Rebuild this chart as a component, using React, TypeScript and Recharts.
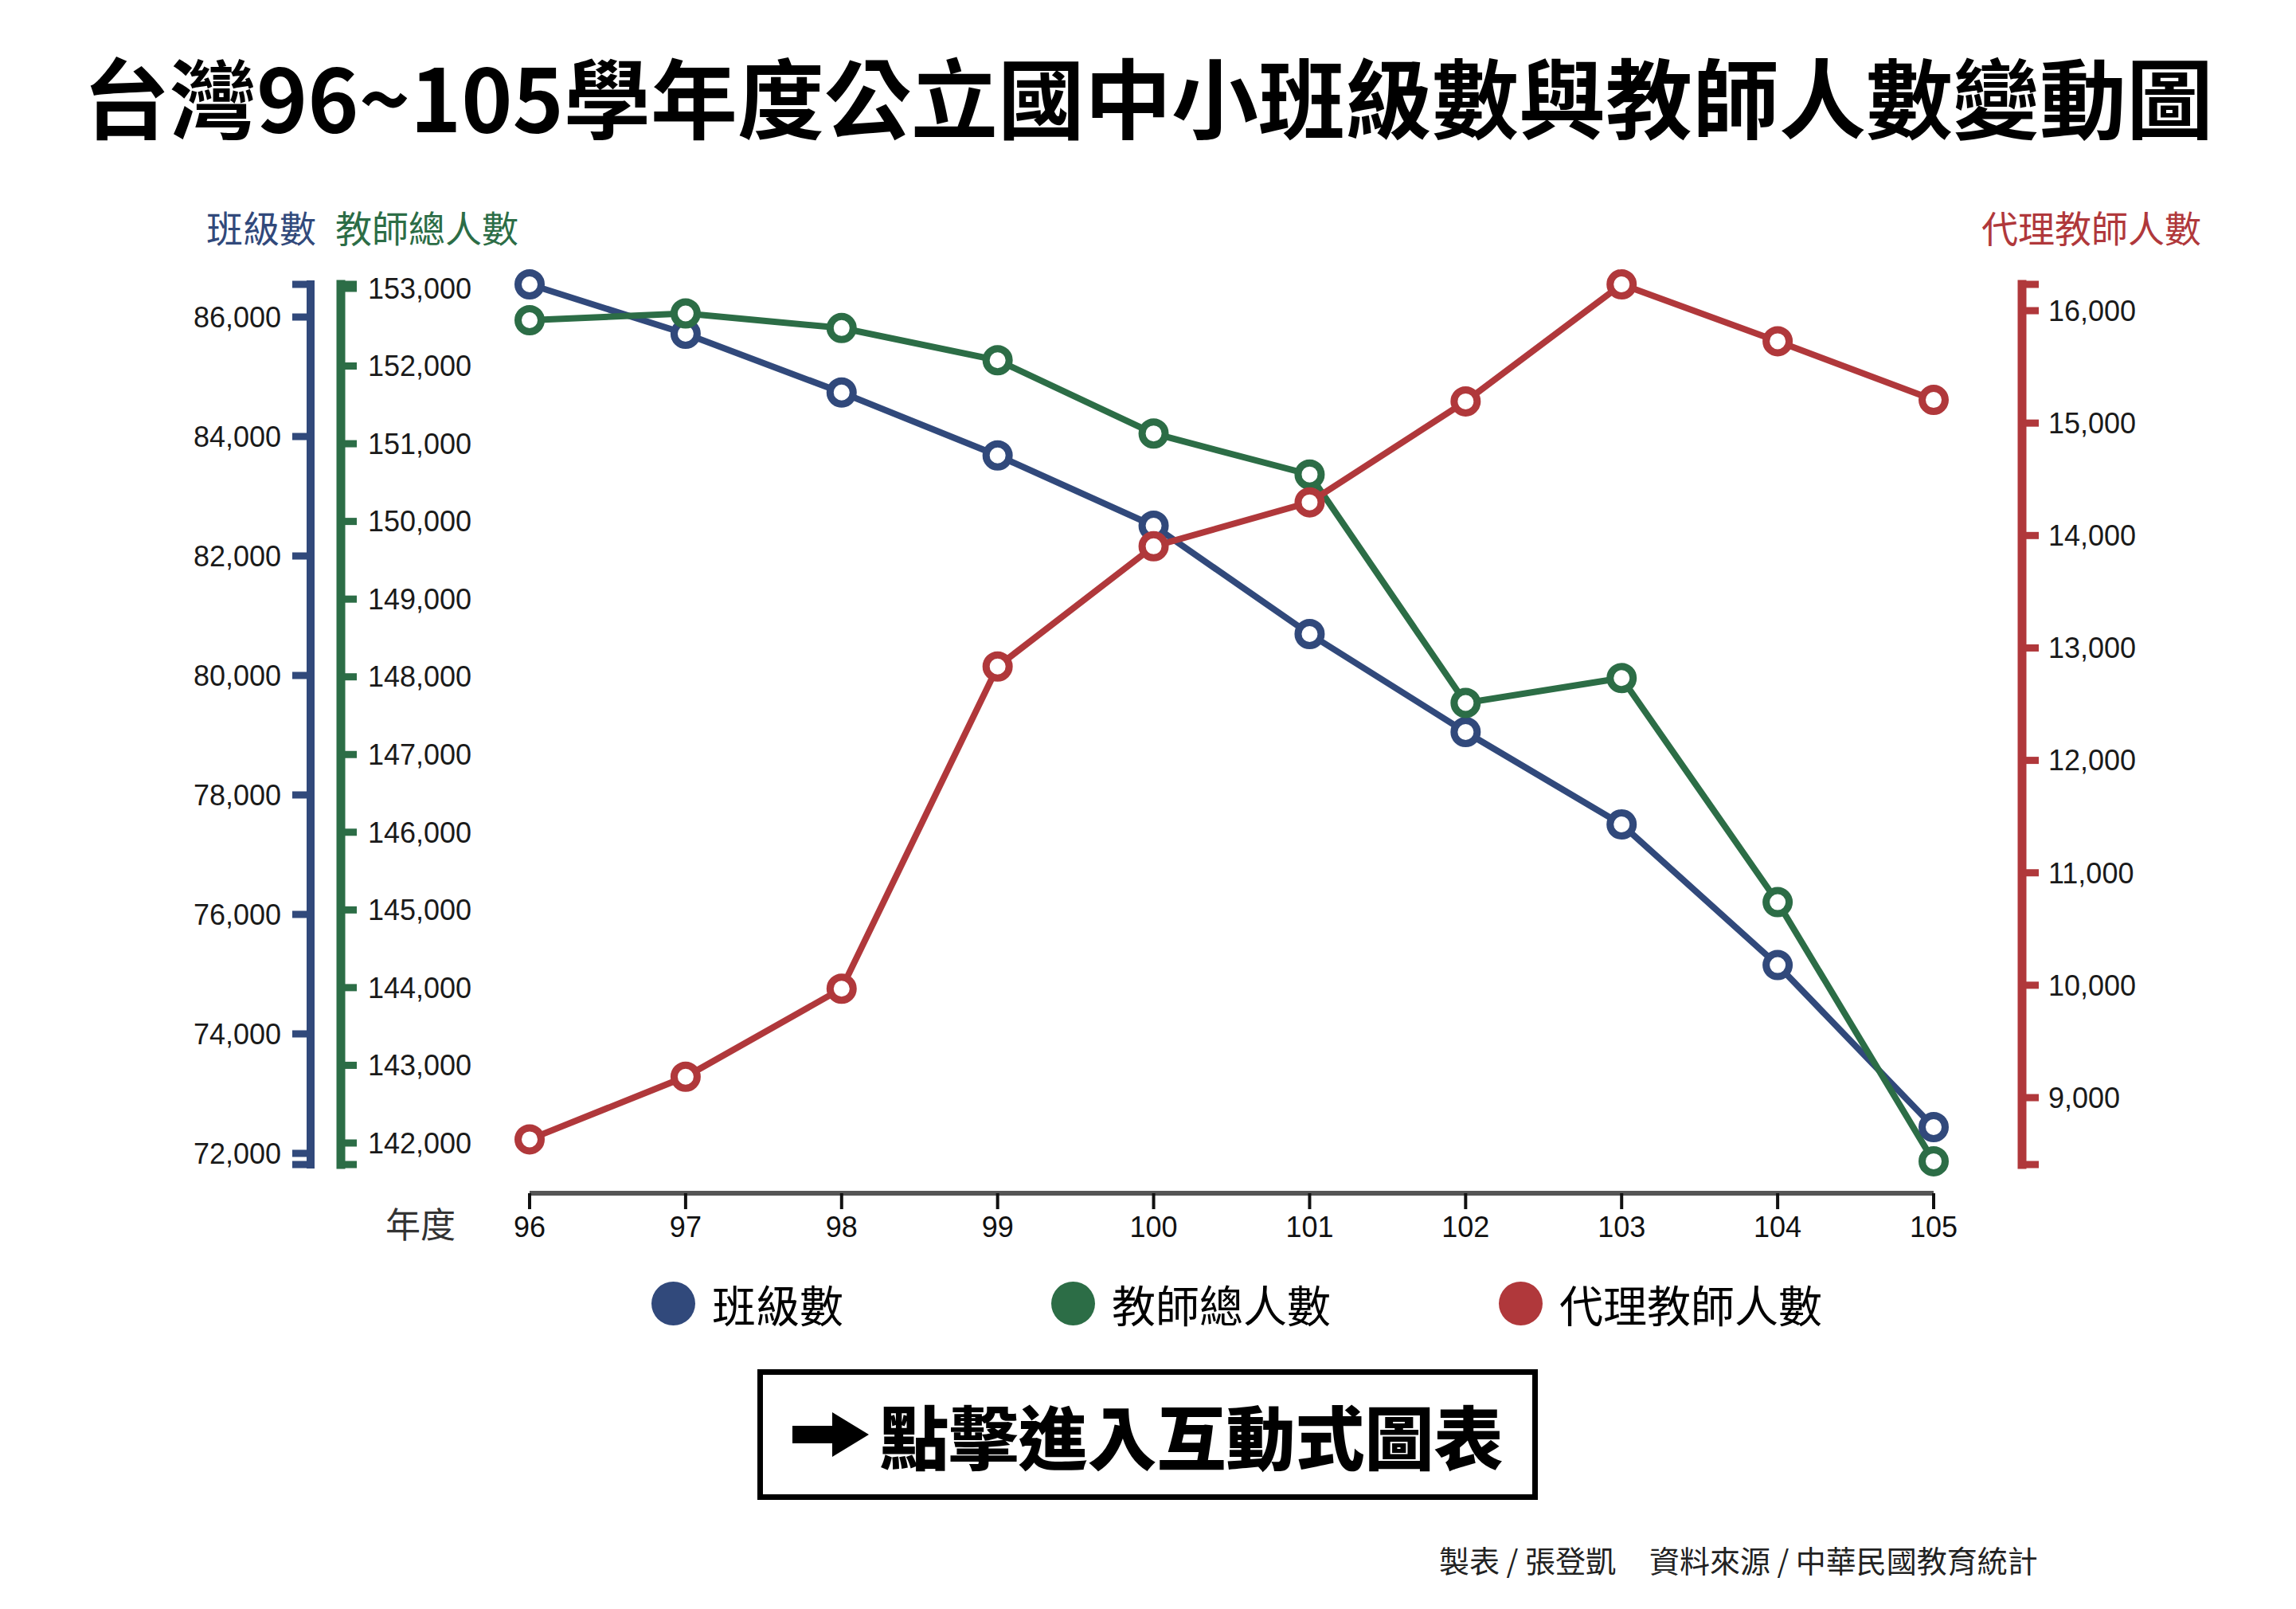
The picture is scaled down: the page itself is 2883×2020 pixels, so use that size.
import React from 'react';
import { LineChart, Line, XAxis, YAxis } from 'recharts';

// 學年度
const years = [96, 97, 98, 99, 100, 101, 102, 103, 104, 105];
// 班級數
const classCounts = [86547, 85720, 84737, 83683, 82507, 80693, 79053, 77507, 75152, 72440];
// 教師總人數
const teacherTotals = [152590, 152677, 152489, 152074, 151132, 150604, 147664, 147984, 145100, 141765];
// 代理教師人數
const substituteTeachers = [8629, 9186, 9969, 12835, 13904, 14295, 15193, 16234, 15728, 15206];

const classTicks = [72000, 74000, 76000, 78000, 80000, 82000, 84000, 86000];
const teacherTicks = [142000, 143000, 144000, 145000, 146000, 147000, 148000, 149000, 150000, 151000, 152000, 153000];
const substituteTicks = [9000, 10000, 11000, 12000, 13000, 14000, 15000, 16000];

const classDomain = [71813, 86547];
const teacherDomain = [141723, 153051];
const substituteDomain = [8405, 16234];

const legendNames = ['班級數', '教師總人數', '代理教師人數'];

const BLUE = '#31497b';
const GREEN = '#2c6d46';
const RED = '#b0383b';

const CJK = '"Noto Sans CJK TC", "Noto Sans CJK SC", sans-serif';
const NUM = '"Liberation Sans", Arial, sans-serif';

// layout
const W = 2883;
const H = 2020;
const CHART_H = 1600;
const PLOT_LEFT = 428;
const PLOT_RIGHT = 2539;
const PLOT_TOP = 357;
const PLOT_BOTTOM = 1462;
const PAD_L = 237;
const PAD_R = 111;
const X_AXIS_H = 100;
const BLUE_W = 150;
const GAP_W = 38;
const RED_W = 200;
const X_STEP = (PLOT_RIGHT - PLOT_LEFT - PAD_L - PAD_R) / (years.length - 1);

const chartData = years.map((year, i) => ({
  year,
  classes: classCounts[i],
  teachers: teacherTotals[i],
  substitutes: substituteTeachers[i],
}));

const labelOnly = (ticks: number[]) => (v: number) => (ticks.includes(v) ? v.toLocaleString('en-US') : '');

const tickStyle = { fontSize: 36, fontFamily: NUM, fill: '#1a1a1a' };

const XTick = (props: any) => {
  const { x, y, payload, index } = props;
  const lineY = y + 36;
  return (
    <g>
      {index === 0 && (
        <>
          <line x1={x} x2={x + X_STEP * (years.length - 1)} y1={lineY} y2={lineY} stroke="#555" strokeWidth={6} />
          <text x={x - 93} y={lineY + 40} dy="0.36em" textAnchor="end" fontSize={44} fontFamily={CJK} fill="#333">
            年度
          </text>
        </>
      )}
      <line x1={x} x2={x} y1={lineY} y2={lineY + 20} stroke="#111" strokeWidth={4} />
      <text x={x} y={lineY + 42} dy="0.355em" textAnchor="middle" fontSize={36} fontFamily={NUM} fill="#111">
        {payload.value}
      </text>
    </g>
  );
};

const Txt: React.FC<{ left: number; cy: number; size: number; color?: string; weight?: number; children: React.ReactNode }> = ({
  left, cy, size, color = '#000', weight = 400, children,
}) => (
  <div
    style={{
      position: 'absolute', left, top: cy - size * 0.56, fontSize: size, lineHeight: 1,
      fontFamily: CJK, color, fontWeight: weight, whiteSpace: 'nowrap',
    }}
  >
    {children}
  </div>
);

const legendColors = [BLUE, GREEN, RED];
const legendLefts = [818, 1320, 1882];

export default function App() {
  return (
    <div style={{ position: 'absolute', left: 0, top: 0, width: W, height: H, background: '#fff', overflow: 'hidden' }}>
      <div
        style={{
          position: 'absolute', left: 0, top: 125 - 109 * 0.56, width: W, textAlign: 'center',
          fontSize: 109, lineHeight: 1, fontFamily: CJK, fontWeight: 700, color: '#000',
        }}
      >
        台灣96~105學年度公立國中小班級數與教師人數變動圖
      </div>

      <Txt left={259} cy={287} size={46} color={BLUE}>班級數</Txt>
      <Txt left={421} cy={287} size={46} color={GREEN}>教師總人數</Txt>
      <Txt left={2488} cy={287} size={46} color={RED}>代理教師人數</Txt>

      <div style={{ position: 'absolute', left: 0, top: 0 }}>
        <LineChart
          width={W}
          height={CHART_H}
          data={chartData}
          margin={{
            top: PLOT_TOP,
            bottom: CHART_H - PLOT_BOTTOM - X_AXIS_H,
            left: PLOT_LEFT - BLUE_W - GAP_W,
            right: W - PLOT_RIGHT - RED_W,
          }}
        >
          <XAxis
            xAxisId="year"
            dataKey="year"
            type="number"
            domain={[years[0], years[years.length - 1]]}
            ticks={years}
            interval={0}
            padding={{ left: PAD_L, right: PAD_R }}
            height={X_AXIS_H}
            axisLine={false}
            tickLine={false}
            tickSize={0}
            tickMargin={0}
            tick={<XTick />}
          />
          <YAxis
            yAxisId="classes"
            orientation="left"
            type="number"
            width={BLUE_W}
            domain={classDomain}
            ticks={[classDomain[0], ...classTicks, classDomain[1]]}
            interval={0}
            tickFormatter={labelOnly(classTicks)}
            tickSize={23}
            tickMargin={14}
            axisLine={{ stroke: BLUE, strokeWidth: 10, strokeLinecap: 'square' }}
            tickLine={{ stroke: BLUE, strokeWidth: 9 }}
            tick={tickStyle}
          />
          <YAxis
            yAxisId="aaGap"
            orientation="left"
            type="number"
            domain={[0, 1]}
            width={GAP_W}
            axisLine={false}
            tickLine={false}
            tick={false}
          />
          <YAxis
            yAxisId="teachers"
            orientation="left"
            mirror
            type="number"
            width={200}
            domain={teacherDomain}
            ticks={[teacherDomain[0], ...teacherTicks, teacherDomain[1]]}
            interval={0}
            tickFormatter={labelOnly(teacherTicks)}
            tickSize={20}
            tickMargin={14}
            axisLine={{ stroke: GREEN, strokeWidth: 11, strokeLinecap: 'square' }}
            tickLine={{ stroke: GREEN, strokeWidth: 9 }}
            tick={tickStyle}
          />
          <YAxis
            yAxisId="substitutes"
            orientation="right"
            type="number"
            width={RED_W}
            domain={substituteDomain}
            ticks={[substituteDomain[0], ...substituteTicks, substituteDomain[1]]}
            interval={0}
            tickFormatter={labelOnly(substituteTicks)}
            tickSize={21}
            tickMargin={12}
            axisLine={{ stroke: RED, strokeWidth: 11, strokeLinecap: 'square' }}
            tickLine={{ stroke: RED, strokeWidth: 9 }}
            tick={tickStyle}
          />
          <Line
            xAxisId="year"
            yAxisId="classes"
            dataKey="classes"
            name="班級數"
            type="linear"
            stroke={BLUE}
            strokeWidth={8}
            dot={{ r: 14.5, stroke: BLUE, strokeWidth: 9, fill: '#fff' }}
            activeDot={false}
            isAnimationActive={false}
          />
          <Line
            xAxisId="year"
            yAxisId="teachers"
            dataKey="teachers"
            name="教師總人數"
            type="linear"
            stroke={GREEN}
            strokeWidth={8}
            dot={{ r: 14.5, stroke: GREEN, strokeWidth: 9, fill: '#fff' }}
            activeDot={false}
            isAnimationActive={false}
          />
          <Line
            xAxisId="year"
            yAxisId="substitutes"
            dataKey="substitutes"
            name="代理教師人數"
            type="linear"
            stroke={RED}
            strokeWidth={8}
            dot={{ r: 14.5, stroke: RED, strokeWidth: 9, fill: '#fff' }}
            activeDot={false}
            isAnimationActive={false}
          />
        </LineChart>
      </div>

      {legendNames.map((name, i) => (
        <div
          key={name}
          style={{
            position: 'absolute', left: legendLefts[i], top: 1636 - 30, height: 60,
            display: 'flex', alignItems: 'center', gap: 21,
          }}
        >
          <div style={{ width: 55, height: 55, borderRadius: '50%', background: legendColors[i] }} />
          <span style={{ fontFamily: CJK, fontSize: 55, lineHeight: 1, color: '#000' }}>{name}</span>
        </div>
      ))}

      <div
        style={{
          position: 'absolute', left: 951, top: 1719, width: 980, height: 164, boxSizing: 'border-box',
          border: '7px solid #000', display: 'flex', alignItems: 'center', justifyContent: 'center', gap: 14,
        }}
      >
        <svg width={96} height={56} viewBox="0 0 96 56">
          <polygon points="0,17 50,17 50,0 96,28 50,56 50,39 0,39" fill="#000" />
        </svg>
        <span style={{ fontFamily: CJK, fontSize: 87, fontWeight: 900, lineHeight: 1, color: '#000' }}>
          點擊進入互動式圖表
        </span>
      </div>

      <Txt left={1807} cy={1960} size={38} color="#222">
        <span>製表 / 張登凱</span>
        <span style={{ marginLeft: 42 }}>資料來源 / 中華民國教育統計</span>
      </Txt>
    </div>
  );
}
